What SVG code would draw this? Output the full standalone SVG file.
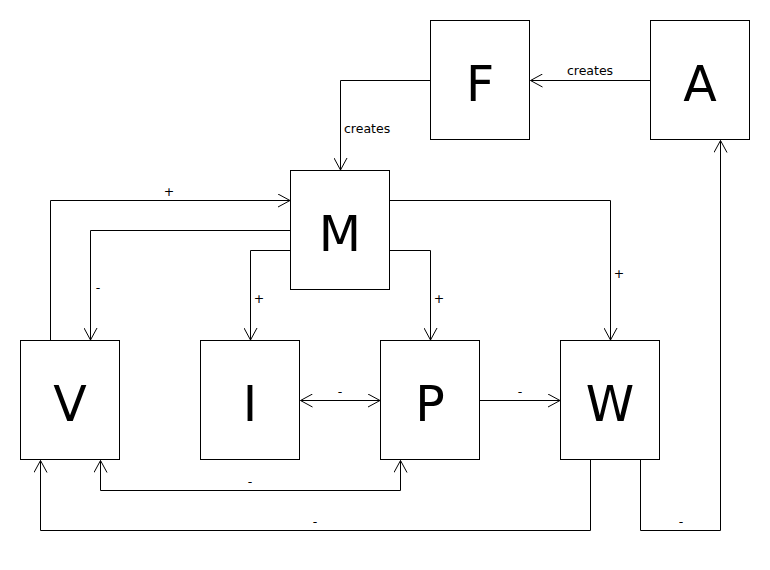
<svg xmlns="http://www.w3.org/2000/svg" width="770" height="570" viewBox="0 0 770 570">
<style>
.box{fill:#fff;stroke:#000;stroke-width:1}
.big{font-family:"DejaVu Sans",sans-serif;font-size:49px;text-anchor:middle;fill:#000}
.lbl{font-family:"DejaVu Sans",sans-serif;font-size:12.5px;fill:#000}
.c{text-anchor:middle}
.ln{fill:none;stroke:#000;stroke-width:1}
</style>
<defs>
<marker id="arr" viewBox="0 0 13 14" refX="12" refY="7" markerWidth="13" markerHeight="14" markerUnits="userSpaceOnUse" orient="auto-start-reverse">
<path d="M0,0.5 L12,7 L0,13.5" fill="none" stroke="#000" stroke-width="1"/>
</marker>
</defs>
<rect width="770" height="570" fill="#fff"/>
<g id="connectors">
<path class="ln" d="M650,80.5 H530.5" marker-end="url(#arr)"/>
<text class="lbl c" x="590" y="75">creates</text>
<path class="ln" d="M430,80.5 H340.5 V170" marker-end="url(#arr)"/>
<text class="lbl" x="344" y="133">creates</text>
<path class="ln" d="M50.5,340 V200.5 H290" marker-end="url(#arr)"/>
<text class="lbl c" x="169" y="196">+</text>
<path class="ln" d="M290,230.5 H90.5 V340" marker-end="url(#arr)"/>
<text class="lbl c" x="98" y="292">-</text>
<path class="ln" d="M290,250.5 H250.5 V340" marker-end="url(#arr)"/>
<text class="lbl c" x="259" y="303">+</text>
<path class="ln" d="M390,250.5 H430.5 V340" marker-end="url(#arr)"/>
<text class="lbl c" x="439" y="303">+</text>
<path class="ln" d="M390,200.5 H610.5 V340" marker-end="url(#arr)"/>
<text class="lbl c" x="619" y="278">+</text>
<path class="ln" d="M300.5,400.5 H380" marker-start="url(#arr)" marker-end="url(#arr)"/>
<text class="lbl c" x="340" y="396">-</text>
<path class="ln" d="M480,400.5 H560" marker-end="url(#arr)"/>
<text class="lbl c" x="520" y="396">-</text>
<path class="ln" d="M100.5,460.5 V490.5 H400.5 V460.5" marker-start="url(#arr)" marker-end="url(#arr)"/>
<text class="lbl c" x="250" y="486">-</text>
<path class="ln" d="M590.5,460 V530.5 H40.5 V460.5" marker-end="url(#arr)"/>
<text class="lbl c" x="315" y="526">-</text>
<path class="ln" d="M640.5,460 V530.5 H720.5 V140.5" marker-end="url(#arr)"/>
<text class="lbl c" x="681" y="526">-</text>
</g>
<g id="F"><rect class="box" x="430.5" y="20.5" width="99" height="119"/><text class="big" x="480" y="101">F</text></g>
<g id="A"><rect class="box" x="650.5" y="20.5" width="99" height="119"/><text class="big" x="700" y="101">A</text></g>
<g id="M"><rect class="box" x="290.5" y="170.5" width="99" height="119"/><text class="big" x="340" y="251">M</text></g>
<g id="V"><rect class="box" x="20.5" y="340.5" width="99" height="119"/><text class="big" x="70" y="421">V</text></g>
<g id="I"><rect class="box" x="200.5" y="340.5" width="99" height="119"/><text class="big" x="250" y="421">I</text></g>
<g id="P"><rect class="box" x="380.5" y="340.5" width="99" height="119"/><text class="big" x="430" y="421">P</text></g>
<g id="W"><rect class="box" x="560.5" y="340.5" width="99" height="119"/><text class="big" x="610" y="421">W</text></g>
</svg>
